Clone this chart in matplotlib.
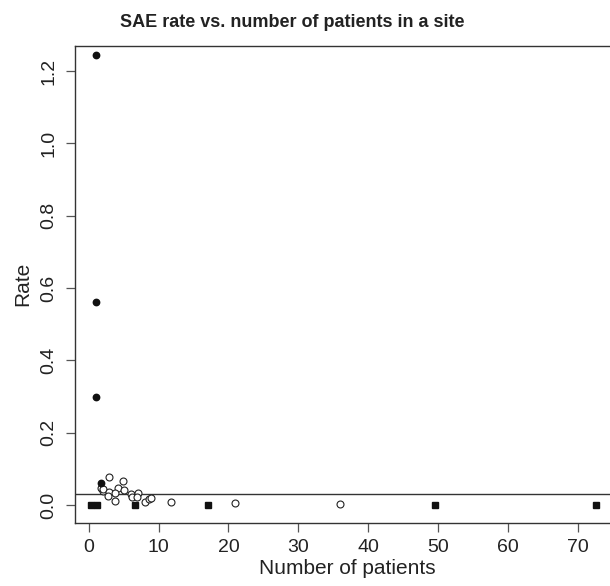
import numpy as np
from matplotlib import pyplot as plt

# sites with events but zero rate? -> squares at the bottom
open_x = [2.9, 4.96, 1.76, 2.0, 2.1, 4.15, 2.9, 3.76, 5.1, 2.8, 6.0, 7.1, 6.15, 6.9,
          3.7, 8.06, 8.68, 8.87, 11.8, 20.9, 35.9]
open_y = [0.078, 0.066, 0.048, 0.040, 0.043, 0.048, 0.037, 0.034, 0.041, 0.026, 0.030,
          0.032, 0.021, 0.023, 0.011, 0.009, 0.016, 0.020, 0.008, 0.005, 0.002]

filled_x = [1.0, 1.0, 1.0, 1.8]
filled_y = [1.245, 0.56, 0.298, 0.062]

square_x = [0.3, 1.2, 6.6, 17.1, 49.5, 72.6]
square_y = [0.0, 0.0, 0.0, 0.0, 0.0, 0.0]

overall_rate = 0.030

xticks = [0, 10, 20, 30, 40, 50, 60, 70]
yticks = [0.0, 0.2, 0.4, 0.6, 0.8, 1.0, 1.2]


def main():
    plt.rcParams['font.family'] = ['Liberation Sans', 'DejaVu Sans']

    fig = plt.figure(figsize=(6.1, 5.86), dpi=100)
    ax = fig.add_axes([0.123, 0.1075, 0.892, 0.8145])

    ax.axhline(overall_rate, color="#333333", linewidth=1.0, zorder=1)
    ax.plot(open_x, open_y, linestyle="none", marker="o", markersize=5,
            markerfacecolor="white", markeredgecolor="#222222", markeredgewidth=0.8, zorder=2)
    ax.plot(filled_x, filled_y, linestyle="none", marker="o", markersize=4.6,
            color="#111111", zorder=3)
    ax.plot(square_x, square_y, linestyle="none", marker="s", markersize=4.8,
            color="#111111", zorder=3)

    ax.set_xlim(-1.96, 75.9)
    ax.set_ylim(-0.0498, 1.27)
    ax.set_xticks(xticks)
    ax.set_xticklabels([str(t) for t in xticks])
    ax.set_yticks(yticks)
    ax.set_yticklabels(["%.1f" % t for t in yticks], rotation=90, va="center")

    for s in ax.spines.values():
        s.set_color("#333333")
        s.set_linewidth(1.0)
    ax.tick_params(axis="both", length=6.5, width=0.9, color="#555555",
                   labelsize=14, labelcolor="#222222")
    ax.tick_params(axis="x", pad=5)
    ax.tick_params(axis="y", pad=6)

    ax.set_xlabel("Number of patients", fontsize=15, color="#222222", labelpad=2)
    ax.set_ylabel("Rate", fontsize=15, color="#222222", labelpad=6)
    fig.text(292 / 610, 1 - 27 / 586, "SAE rate vs. number of patients in a site",
             ha="center", va="baseline", fontsize=13, fontweight="bold", color="#222222")

    fig.savefig("out.png", dpi=100)


if __name__ == '__main__':
    main()
